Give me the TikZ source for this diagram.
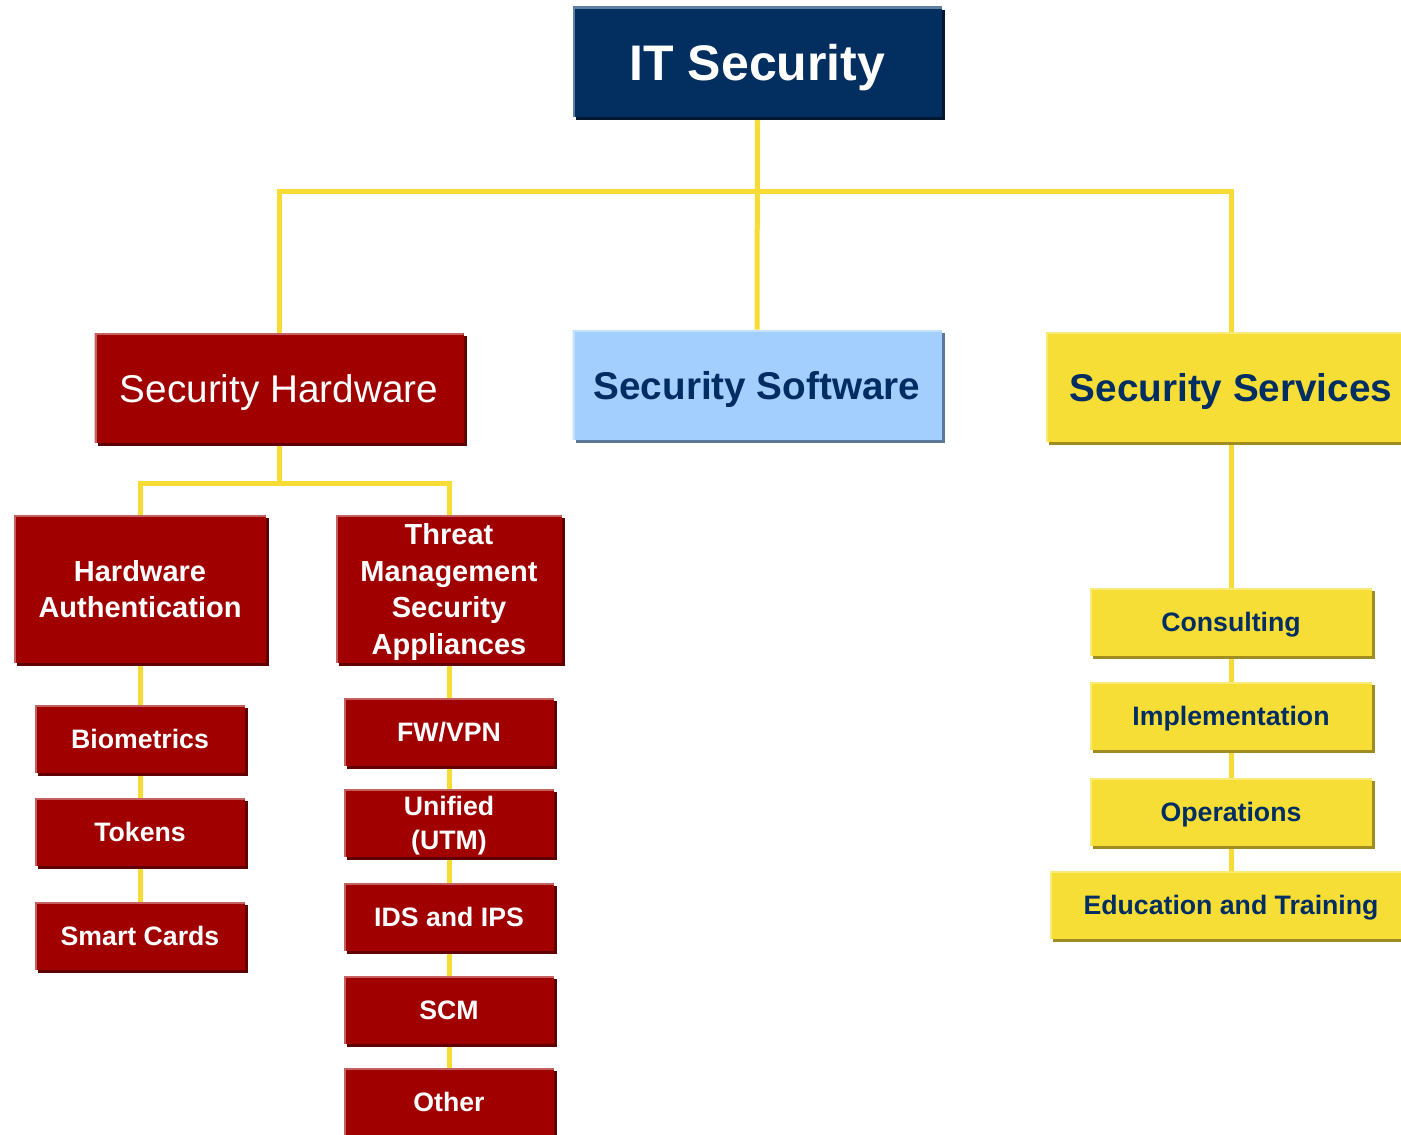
\documentclass[tikz,border=0pt]{standalone}
\usepackage{fontspec}
\setmainfont{Liberation Sans}
\usetikzlibrary{shadows}
\definecolor{navy}{RGB}{2,47,96}
\definecolor{navydark}{RGB}{0,24,48}
\definecolor{navylight}{RGB}{96,128,160}
\definecolor{hwred}{RGB}{160,0,0}
\definecolor{hwdark}{RGB}{96,0,0}
\definecolor{hwlight}{RGB}{196,96,96}
\definecolor{swblue}{RGB}{163,207,255}
\definecolor{swdark}{RGB}{92,120,152}
\definecolor{swlight}{RGB}{196,226,255}
\definecolor{svyel}{RGB}{247,222,54}
\definecolor{svdark}{RGB}{160,140,32}
\definecolor{svlight}{RGB}{250,234,120}
\definecolor{conncol}{RGB}{247,220,53}
\definecolor{txtnavy}{RGB}{0,45,98}
\pgfdeclarelayer{back}
\pgfdeclarelayer{bg}
\pgfsetlayers{back,bg,main}
\tikzset{
  box/.style={rectangle, inner sep=0pt, align=center, text depth=-3.5pt},
  litedge/.style={path picture={\draw[#1, line width=3pt]
      (path picture bounding box.south west) -- (path picture bounding box.north west)
      -- (path picture bounding box.north east);}},
  shad/.style={general shadow={fill=#1, shadow xshift=2.4pt, shadow yshift=-2.4pt}},
  navybox/.style={box, fill=navy, text=white, shad=navydark, litedge=navylight},
  redbox/.style={box, fill=hwred, text=white, shad=hwdark, litedge=hwlight},
  bluebox/.style={box, fill=swblue, text=txtnavy, shad=swdark, litedge=swlight},
  yelbox/.style={box, fill=svyel, text=txtnavy, shad=svdark, litedge=svlight},
  big/.style={minimum width=276.75pt, minimum height=82.5pt},
  small/.style={minimum width=157.5pt, minimum height=51pt, font=\bfseries\fontsize{20pt}{25.5pt}\selectfont},
  mid/.style={minimum height=111pt, font=\bfseries\fontsize{21.75pt}{27.4pt}\selectfont},
  ysmall/.style={minimum width=211.5pt, minimum height=51pt, font=\bfseries\fontsize{20pt}{25.5pt}\selectfont},
  conn/.style={draw=conncol, line width=3.75pt},
}
\begin{document}
\begin{tikzpicture}[x=0.75pt,y=-0.75pt]
\clip (0,0) rectangle (1401,1134);
\begin{pgfonlayer}{back}
\fill[white] (0,0) rectangle (1401,1134);
\end{pgfonlayer}
% top
\node[navybox, big, font=\bfseries\fontsize{37.5pt}{40pt}\selectfont] (it) at (757.5,62) {IT Security};
% level 1
\node[redbox, big, font=\fontsize{29pt}{32pt}\selectfont] (hw) at (279,388) {Security Hardware};
\node[bluebox, big, font=\bfseries\fontsize{29pt}{32pt}\selectfont] (sw) at (757,385) {Security Software};
\node[yelbox, big, minimum width=277.5pt, font=\bfseries\fontsize{29pt}{32pt}\selectfont] (sv) at (1231,387) {Security Services};
% hardware level 2
\node[redbox, mid, minimum width=189pt] (ha) at (140,589) {Hardware\\Authentication};
\node[redbox, mid, minimum width=169.5pt] (tm) at (449,589) {Threat\\Management\\Security\\Appliances};
% hardware authentication children
\node[redbox, small] (bio) at (140,739) {Biometrics};
\node[redbox, small] (tok) at (140,832) {Tokens};
\node[redbox, small] (sc) at (140,936) {Smart Cards};
% threat management children
\node[redbox, small] (fw) at (449,732) {FW/VPN};
\node[redbox, small] (utm) at (449,823) {Unified\\(UTM)};
\node[redbox, small] (ids) at (449,917) {IDS and IPS};
\node[redbox, small] (scm) at (449,1010) {SCM};
\node[redbox, small] (oth) at (449,1102) {Other};
% services children
\node[yelbox, ysmall] (con) at (1231,622) {Consulting};
\node[yelbox, ysmall] (imp) at (1231,716) {Implementation};
\node[yelbox, ysmall] (ope) at (1231,812) {Operations};
\node[yelbox, ysmall, minimum width=271.5pt] (edu) at (1231,905) {Education and Training};
% connectors
\coordinate (bus) at (757,192);
\coordinate (hbus) at (279,483);
\begin{pgfonlayer}{bg}
\draw[conn] (it.south) -- (sw.north);
\draw[conn] (hw.north) |- (bus) -| (sv.north);
\draw[conn] (hw.south) -- (hbus);
\draw[conn] (ha.north) |- (hbus) -| (tm.north);
\draw[conn] (ha.south) -- (sc.north);
\draw[conn] (tm.south) -- (oth.north);
\draw[conn] (sv.south) -- (edu.north);
\end{pgfonlayer}
\end{tikzpicture}
\end{document}
